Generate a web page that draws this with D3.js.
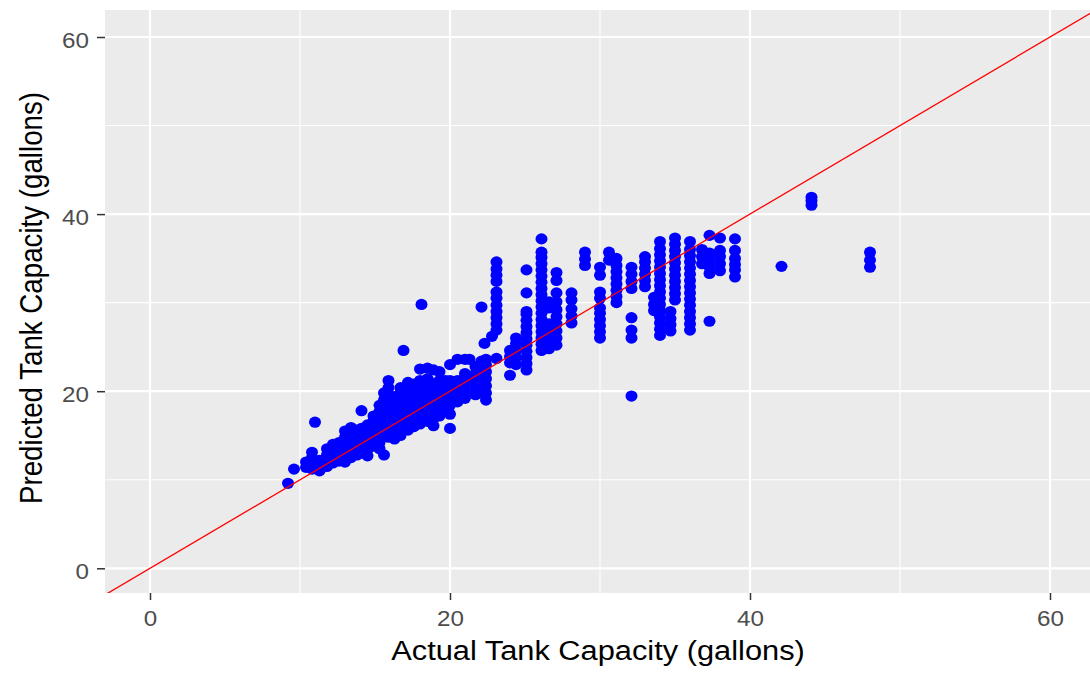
<!DOCTYPE html>
<html>
<head>
<meta charset="utf-8">
<script src="https://cdn.jsdelivr.net/npm/d3@7"></script>
<style>
  html, body { margin: 0; padding: 0; background: #fff; }
  svg { display: block; }
  text { font-family: "Liberation Sans", Arial, sans-serif; }
</style>
</head>
<body>
<svg id="chart" width="1090" height="673"></svg>
<script>
// ---- data ----
const xTicks = [0, 20, 40, 60];
const yTicks = [0, 20, 40, 60];
const xMinor = [10, 30, 50];
const yMinor = [10, 30, 50];
const xLabel = "Actual Tank Capacity (gallons)";
const yLabel = "Predicted Tank Capacity (gallons)";

// actual tank capacity (x) for each group of observations
const actualGroups = [
  9.2, 9.6, 10.4, 10.8, 11.0, 11.3, 11.8, 12.2, 12.6, 13.0, 13.4, 13.8, 14.1, 14.5, 14.9,
  15.3, 15.6, 15.9, 16.3, 16.7, 16.9, 17.2, 17.6, 18.0, 18.1, 18.5, 18.9, 19.3, 19.7, 20.0,
  20.5, 21.0, 21.3, 21.7, 22.1, 22.3, 22.4, 22.8, 23.1, 24.0, 24.4, 25.1, 26.1, 26.6, 27.1,
  28.1, 29.0, 30.0, 30.6, 31.1, 32.1, 33.0, 33.6, 34.0, 34.7, 35.0, 36.0, 36.8, 37.3, 38.0,
  39.0, 42.1, 44.1, 48.0
];
// predicted tank capacity (y) observed at each actual value above
const predictedGroups = [
  [9.6],
  [11.2],
  [11.4, 12.0],
  [11.2, 11.8, 12.5, 13.1],
  [16.5],
  [11.0, 11.6, 12.2],
  [11.5, 12.1, 12.8, 13.5],
  [11.9, 12.6, 13.3, 14.0],
  [12.1, 12.8, 13.5, 14.2],
  [12.0, 12.7, 13.4, 14.1, 14.8, 15.5],
  [12.5, 13.2, 13.9, 14.6, 15.3, 15.9],
  [12.8, 13.5, 14.2, 14.9, 15.6],
  [13.0, 13.7, 14.4, 15.1, 15.8, 17.8],
  [12.7, 13.4, 14.1, 14.8, 15.5, 16.2],
  [13.8, 14.5, 15.2, 15.9, 16.6, 17.2],
  [13.5, 14.2, 14.9, 15.6, 16.3, 17.0, 17.7, 18.4],
  [12.8, 15.0, 16.0, 17.0, 18.0, 19.0, 19.8],
  [14.8, 15.6, 16.4, 17.2, 18.0, 18.8, 19.6, 20.4, 21.2],
  [14.6, 15.4, 16.2, 17.0, 17.8, 18.6, 19.4],
  [15.0, 15.8, 16.6, 17.4, 18.2, 19.0, 19.8, 20.4],
  [24.6],
  [15.6, 16.4, 17.2, 18.0, 18.8, 19.6, 20.4, 21.0],
  [16.0, 16.8, 17.6, 18.4, 19.2, 20.0, 20.8],
  [16.3, 17.1, 17.9, 18.7, 19.5, 20.3, 21.2, 22.5],
  [29.8],
  [16.6, 17.4, 18.2, 19.0, 19.8, 20.6, 21.4, 22.6],
  [16.1, 16.9, 17.7, 18.5, 19.3, 20.1, 20.9, 22.4],
  [17.2, 18.0, 18.8, 19.6, 20.4, 21.2, 22.2],
  [18.0, 18.8, 19.6, 20.4, 21.2],
  [15.8, 17.4, 18.4, 19.2, 20.0, 20.8, 21.2, 23.0],
  [18.8, 19.6, 20.4, 21.2, 23.6],
  [19.2, 20.0, 20.8, 21.6, 22.0, 23.6],
  [21.4, 23.6],
  [19.6, 20.4, 21.2, 22.0, 22.8],
  [19.8, 20.5, 21.5, 22.6, 23.4, 29.5],
  [25.4],
  [19.0, 19.8, 20.6, 21.4, 22.2, 23.0, 23.6],
  [26.2],
  [23.7, 26.9, 27.6, 28.3, 29.0, 29.7, 30.5, 31.2, 32.4, 33.1, 33.8, 34.6],
  [21.8, 23.2, 23.9, 24.6],
  [23.0, 23.8, 24.6, 25.4, 26.0],
  [22.4, 23.1, 23.8, 24.5, 25.2, 25.9, 26.6, 27.3, 28.0, 28.7, 29.0, 31.1, 33.7],
  [24.6, 25.3, 26.0, 26.7, 27.4, 28.1, 28.8, 29.5, 30.2, 30.9, 31.6, 32.3, 33.0, 33.7, 34.4, 35.1, 35.7, 37.2],
  [24.8, 25.6, 26.4, 27.2, 27.6, 29.4, 30.1],
  [25.2, 26.0, 26.8, 27.6, 28.4, 29.2, 30.1, 31.1, 32.5, 33.4],
  [27.7, 28.5, 29.3, 30.3, 31.1],
  [34.2, 34.9, 35.7],
  [26.0, 26.7, 27.4, 28.1, 28.8, 29.4, 30.5, 31.2, 33.1, 34.0],
  [34.8, 35.7],
  [30.0, 30.7, 31.4, 32.1, 32.8, 33.5, 34.2, 35.0],
  [19.45, 26.0, 26.9, 28.3, 31.6, 32.4, 33.2, 34.0],
  [31.8, 32.5, 33.2, 33.9, 34.6, 35.2],
  [29.1, 29.8, 30.6],
  [26.3, 27.0, 27.7, 28.4, 29.1, 29.8, 30.5, 31.2, 31.9, 32.6, 33.3, 34.0, 34.7, 35.4, 36.1, 36.9],
  [26.8, 27.5, 28.2, 29.0],
  [30.3, 31.0, 31.7, 32.4, 33.1, 33.8, 34.5, 35.2, 35.9, 36.6, 37.3],
  [26.9, 27.6, 28.3, 29.0, 29.7, 30.4, 31.1, 31.8, 32.5, 33.2, 33.9, 34.6, 35.3, 36.0, 36.9],
  [34.4, 35.2, 36.0],
  [27.9, 33.3, 34.0, 34.8, 35.6, 37.6],
  [33.6, 34.4, 35.2, 35.9, 37.3],
  [32.9, 33.7, 34.3, 35.0, 35.9, 37.2],
  [34.1],
  [41.0, 41.5, 41.9],
  [34.0, 34.8, 35.7]
];

const points = [];
actualGroups.forEach((a, i) => predictedGroups[i].forEach(p => points.push({ a, p })));

// ---- layout ----
const svg = d3.select("#chart");
const panel = { left: 105, right: 1095, top: 10, bottom: 593 };
const x = d3.scaleLinear().domain([-3, 63]).range([panel.left, panel.right]);
const y = d3.scaleLinear().domain([-2.79, 63.05]).range([panel.bottom, panel.top]);

svg.append("defs").append("clipPath").attr("id", "clip")
  .append("rect").attr("x", panel.left).attr("y", panel.top)
  .attr("width", panel.right - panel.left).attr("height", panel.bottom - panel.top);

svg.append("rect").attr("x", panel.left).attr("y", panel.top)
  .attr("width", panel.right - panel.left).attr("height", panel.bottom - panel.top)
  .attr("fill", "#EBEBEB");

const grid = svg.append("g").attr("clip-path", "url(#clip)");
grid.selectAll(".xminor").data(xMinor).join("line")
  .attr("x1", d => x(d)).attr("x2", d => x(d)).attr("y1", panel.top).attr("y2", panel.bottom)
  .attr("stroke", "#fff").attr("stroke-width", 1.1);
grid.selectAll(".yminor").data(yMinor).join("line")
  .attr("y1", d => y(d)).attr("y2", d => y(d)).attr("x1", panel.left).attr("x2", panel.right)
  .attr("stroke", "#fff").attr("stroke-width", 1.1);
grid.selectAll(".xmajor").data(xTicks).join("line")
  .attr("x1", d => x(d)).attr("x2", d => x(d)).attr("y1", panel.top).attr("y2", panel.bottom)
  .attr("stroke", "#fff").attr("stroke-width", 2.2);
grid.selectAll(".ymajor").data(yTicks).join("line")
  .attr("y1", d => y(d)).attr("y2", d => y(d)).attr("x1", panel.left).attr("x2", panel.right)
  .attr("stroke", "#fff").attr("stroke-width", 2.2);

// points
const plot = svg.append("g").attr("clip-path", "url(#clip)");
plot.selectAll("ellipse").data(points).join("ellipse")
  .attr("cx", d => x(d.a)).attr("cy", d => y(d.p))
  .attr("rx", 6.0).attr("ry", 5.6)
  .attr("fill", "#0000FF");

// identity line
const lineGen = d3.line().x(d => x(d[0])).y(d => y(d[1]));
plot.append("path").datum([[-5, -5], [70, 70]])
  .attr("d", lineGen).attr("fill", "none")
  .attr("stroke", "#FF0000").attr("stroke-width", 1.3);

// axes
const xAxis = svg.append("g").attr("transform", `translate(0,${panel.bottom})`)
  .call(d3.axisBottom(x).tickValues(xTicks).tickSize(7).tickFormat(d3.format("d")));
xAxis.select(".domain").remove();
xAxis.selectAll("line").attr("stroke", "#333333").attr("stroke-width", 1.5);
xAxis.selectAll("text").attr("y", 33).attr("dy", 0)
  .attr("transform", "scale(1.1,1)")
  .attr("fill", "#4D4D4D").style("font-size", "22px");

const yAxis = svg.append("g").attr("transform", `translate(${panel.left},0)`)
  .call(d3.axisLeft(y).tickValues(yTicks).tickSize(8).tickFormat(d3.format("d")));
yAxis.select(".domain").remove();
yAxis.selectAll("line").attr("stroke", "#333333").attr("stroke-width", 1.5);
yAxis.selectAll("text").attr("x", -16 / 1.1).attr("dy", 0).attr("y", 10)
  .attr("transform", "scale(1.1,1)")
  .attr("fill", "#4D4D4D").style("font-size", "22px");

// titles
svg.append("g").attr("transform", "translate(598,660) scale(1.1,1)")
  .append("text").attr("text-anchor", "middle")
  .style("font-size", "28px").attr("fill", "#000").text(xLabel);

svg.append("g").attr("transform", "translate(42,298) scale(1.1,1) rotate(-90)")
  .append("text").attr("text-anchor", "middle")
  .style("font-size", "27.7px").attr("fill", "#000").text(yLabel);
</script>
</body>
</html>
